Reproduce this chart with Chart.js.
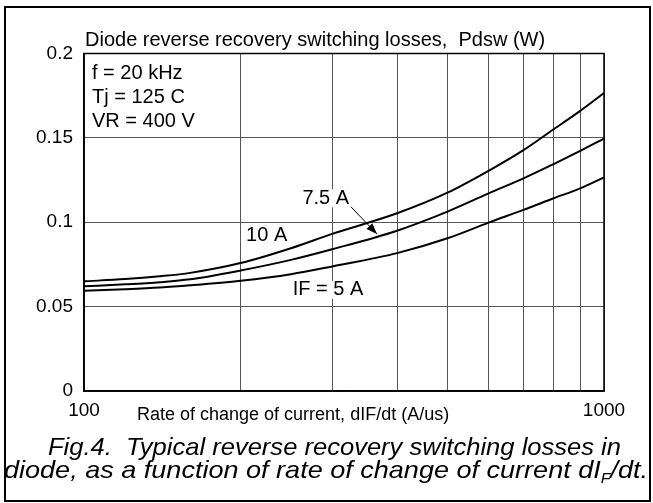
<!DOCTYPE html>
<html>
<head>
<meta charset="utf-8">
<script src="https://cdn.jsdelivr.net/npm/chart.js@4/dist/chart.umd.min.js"></script>
<style>
  html, body { margin: 0; padding: 0; background: #fff; }
  #wrap { position: relative; width: 653px; height: 503px; overflow: hidden; background: #fff;
          font-family: "Liberation Sans", Arial, sans-serif; color: #000; }
  #frame { position: absolute; left: 4px; top: 6px; width: 643px; height: 492px; border: 2px solid #000; pointer-events: none; }
  #c { position: absolute; left: 0; top: 0; }
  .t { position: absolute; white-space: nowrap; line-height: 1; }
  .cap { font-style: italic; font-size: 24px; transform-origin: 0 0; }
</style>
</head>
<body>
<div id="wrap">
  <canvas id="c" width="653" height="503"></canvas>
  <div id="frame"></div>
  <div class="t" style="left:85px; top:29px; font-size:20px;">Diode reverse recovery switching losses,&nbsp; Pdsw (W)</div>
  <div class="t" style="left:92px; top:62px; font-size:20px;">f = 20 kHz</div>
  <div class="t" style="left:92px; top:86px; font-size:20px;">Tj = 125 C</div>
  <div class="t" style="left:92px; top:110px; font-size:20px;">VR = 400 V</div>
  <div class="t" style="left:137px; top:405px; font-size:18px;">Rate of change of current, dIF/dt (A/us)</div>
  <div class="t cap" id="cap1" style="left:48px; top:435px;">Fig.4.&nbsp; Typical reverse recovery switching losses in</div>
  <div class="t cap" id="cap2" style="left:4px; top:458px;">diode, as a function of rate of change of current dI<sub style="font-size:14px; vertical-align:-5px;">F</sub>/dt.</div>
</div>
<script>
// dIF/dt values (A/us)
const rates = [100, 120, 140, 160, 200, 250, 300, 400, 500, 600, 700, 800, 900, 1000];
// Pdsw (W) for each IF
const loss10A  = [0.0650, 0.0663, 0.0680, 0.0700, 0.0758, 0.0846, 0.0931, 0.1053, 0.1175, 0.1305, 0.1427, 0.1551, 0.1660, 0.1766];
const loss7_5A = [0.0620, 0.0632, 0.0645, 0.0662, 0.0714, 0.0777, 0.0840, 0.0950, 0.1063, 0.1171, 0.1260, 0.1345, 0.1423, 0.1496];
const loss5A   = [0.0594, 0.0603, 0.0613, 0.0626, 0.0653, 0.0692, 0.0738, 0.0817, 0.0905, 0.0998, 0.1073, 0.1142, 0.1201, 0.1266];
const seriesNames = ["10 A", "7.5 A", "IF = 5 A"];
const xGridValues = [100, 200, 300, 400, 500, 600, 700, 800, 900, 1000];
const xTickLabels = [100, 1000];
const yTicks = [0, 0.05, 0.1, 0.15, 0.2];

// curve labels placed in data coordinates
const curveLabels = [
  { text: "7.5 A",    x: 263, y: 0.1142 },
  { text: "10 A",     x: 205, y: 0.0919 },
  { text: "IF = 5 A", x: 252, y: 0.0599 }
];
const arrowFrom = { x: 326, y: 0.1092 };
const arrowTo   = { x: 366, y: 0.0930 };

function toPts(ys) { return rates.map((r, i) => ({ x: r, y: ys[i] })); }

const lineStyle = { borderColor: '#000', borderWidth: 2, pointRadius: 0, fill: false, tension: 0.4, cubicInterpolationMode: 'monotone' };

// stretch caption lines to the reference widths
function fitCaption(id, width) {
  const el = document.getElementById(id);
  const w = el.getBoundingClientRect().width;
  el.style.transform = 'scaleX(' + (width / w) + ')';
}
fitCaption('cap1', 573);
fitCaption('cap2', 644);

const annot = {
  id: 'annot',
  afterDraw(chart) {
    const ctx = chart.ctx, xs = chart.scales.x, ys = chart.scales.y, a = chart.chartArea;
    ctx.save();
    ctx.strokeStyle = '#000'; ctx.lineWidth = 1.5;
    ctx.strokeRect(a.left, a.top, a.right - a.left, a.bottom - a.top);
    ctx.fillStyle = '#000';
    ctx.font = '20px "Liberation Sans", Arial, sans-serif';
    ctx.textBaseline = 'middle'; ctx.textAlign = 'left';
    curveLabels.forEach(l => {
      const px = xs.getPixelForValue(l.x), py = ys.getPixelForValue(l.y);
      const w = ctx.measureText(l.text).width;
      ctx.fillStyle = '#fff';
      ctx.fillRect(px - 1, py - 9, w + 2, 18);
      ctx.fillStyle = '#000';
      ctx.fillText(l.text, px, py);
    });
    const x1 = xs.getPixelForValue(arrowFrom.x), y1 = ys.getPixelForValue(arrowFrom.y);
    const x2 = xs.getPixelForValue(arrowTo.x), y2 = ys.getPixelForValue(arrowTo.y);
    ctx.strokeStyle = '#000'; ctx.lineWidth = 1;
    ctx.beginPath(); ctx.moveTo(x1, y1); ctx.lineTo(x2, y2); ctx.stroke();
    const ang = Math.atan2(y2 - y1, x2 - x1), L = 11, W = 4;
    ctx.beginPath();
    ctx.moveTo(x2, y2);
    ctx.lineTo(x2 - L * Math.cos(ang) + W * Math.sin(ang), y2 - L * Math.sin(ang) - W * Math.cos(ang));
    ctx.lineTo(x2 - L * Math.cos(ang) - W * Math.sin(ang), y2 - L * Math.sin(ang) + W * Math.cos(ang));
    ctx.closePath(); ctx.fill();
    ctx.restore();
  }
};

new Chart(document.getElementById('c'), {
  type: 'line',
  data: {
    datasets: [
      Object.assign({ label: seriesNames[0], data: toPts(loss10A) }, lineStyle),
      Object.assign({ label: seriesNames[1], data: toPts(loss7_5A) }, lineStyle),
      Object.assign({ label: seriesNames[2], data: toPts(loss5A) }, lineStyle)
    ]
  },
  options: {
    responsive: false,
    animation: false,
    devicePixelRatio: 1,
    layout: { padding: { left: 0, top: 53.5, right: 49, bottom: 0 } },
    plugins: { legend: { display: false }, tooltip: { enabled: false }, title: { display: false } },
    scales: {
      x: {
        type: 'logarithmic', min: 100, max: 1000,
        afterFit(s) { s.height = 112; },
        afterBuildTicks(s) { s.ticks = xGridValues.map(v => ({ value: v, major: false })); },
        grid: { color: '#555', lineWidth: 1, drawTicks: false },
        border: { color: '#000', width: 1.5 },
        ticks: {
          autoSkip: false, maxRotation: 0, padding: 8, color: '#000',
          font: { family: '"Liberation Sans", Arial, sans-serif', size: 19 },
          callback(v) { return xTickLabels.includes(v) ? String(v) : ''; }
        }
      },
      y: {
        type: 'linear', min: 0, max: 0.2,
        afterFit(s) { s.width = 84; },
        afterBuildTicks(s) { s.ticks = yTicks.map(v => ({ value: v })); },
        grid: { color: '#555', lineWidth: 1, drawTicks: false },
        border: { color: '#000', width: 1.5 },
        ticks: {
          padding: 11, color: '#000',
          font: { family: '"Liberation Sans", Arial, sans-serif', size: 19 },
          callback(v) { return String(v); }
        }
      }
    }
  },
  plugins: [annot]
});
</script>
</body>
</html>
